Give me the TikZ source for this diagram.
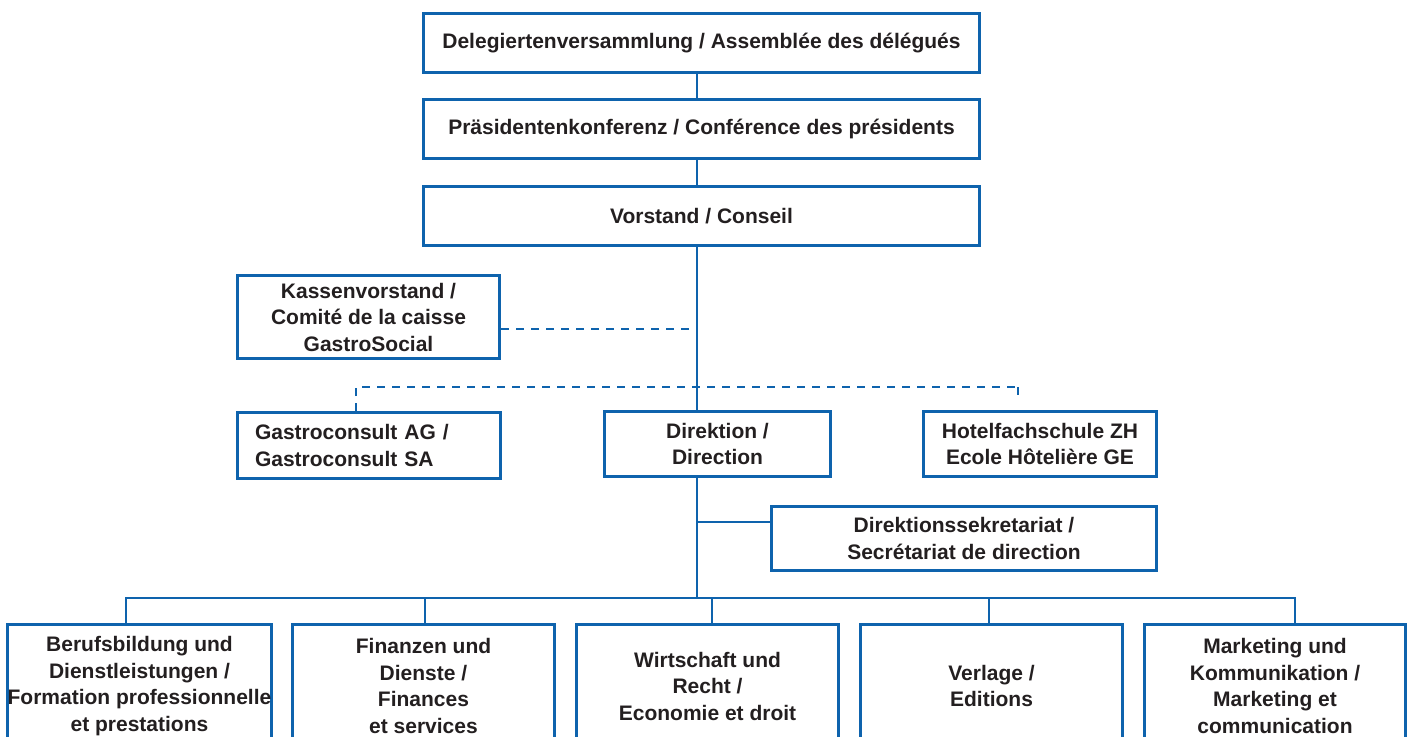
\documentclass[tikz,border=0pt]{standalone}
\usepackage{fontspec}
\setmainfont{Liberation Sans}
\definecolor{orgblue}{RGB}{14,99,173}
\definecolor{orgtext}{RGB}{35,31,32}

\tikzset{
  orgbox/.style={rectangle, draw=orgblue, line width=3pt, inner sep=0pt,
    align=center, text=orgtext, font=\bfseries\fontsize{21}{26.5}\selectfont},
  link/.style={draw=orgblue, line width=2.4pt},
  thinlink/.style={draw=orgblue, line width=1.4pt},
  dashlink/.style={draw=orgblue, line width=2.4pt, dash pattern=on 8pt off 7pt},
}

\begin{document}
\begin{tikzpicture}[x=1pt,y=-1pt]
  \useasboundingbox (0,0) rectangle (1413,736);
  \clip (0,0) rectangle (1413,736);

  \begin{scope}[every node/.style={orgbox}]
    \node[minimum width=556pt, minimum height=59pt] (dv) at (701.5,43)
      {Delegiertenversammlung / Assemblée des délégués};
    \node[minimum width=556pt, minimum height=59pt] (pk) at (701.5,129)
      {Präsidentenkonferenz / Conférence des présidents};
    \node[minimum width=556pt, minimum height=59pt] (vs) at (701.5,216)
      {Vorstand / Conseil};

    \node[minimum width=262pt, minimum height=83pt] (kv) at (368.5,317)
      {Kassenvorstand /\\Comité de la caisse\\GastroSocial};

    \node[minimum width=263pt, minimum height=66pt, text width=228pt, align=left] (gc) at (369,445.5)
      {Gastroconsult AG /\\Gastroconsult SA};
    \node[minimum width=226pt, minimum height=65pt] (dir) at (717.5,444)
      {Direktion /\\Direction};
    \node[minimum width=233pt, minimum height=65pt] (hf) at (1040,444)
      {Hotelfachschule ZH\\Ecole Hôtelière GE};
    \node[minimum width=385pt, minimum height=64pt] (ds) at (964,538.5)
      {Direktionssekretariat /\\Secrétariat de direction};

    \node[minimum width=262pt, minimum height=123pt] (b1) at (139.5,686)
      {Berufsbildung und\\Dienstleistungen /\\Formation professionnelle\\et prestations};
    \node[minimum width=262pt, minimum height=123pt] (b2) at (423.5,686)
      {Finanzen und\\Dienste /\\Finances\\et services};
    \node[minimum width=262pt, minimum height=123pt] (b3) at (707.5,686)
      {Wirtschaft und\\Recht /\\Economie et droit};
    \node[minimum width=262pt, minimum height=123pt] (b4) at (991.5,686)
      {Verlage /\\Editions};
    \node[minimum width=261pt, minimum height=123pt] (b5) at (1275,686)
      {Marketing und\\Kommunikation /\\Marketing et\\communication};
  \end{scope}

  \coordinate (spine)  at (697,0);
  \coordinate (kvjoin) at (697,329);
  \coordinate (gcjoin) at (356,387);
  \coordinate (hfjoin) at (1018,387);
  \coordinate (hfstub) at (1018,401);
  \coordinate (dsjoin) at (697,522);
  \coordinate (bus)    at (697,598);

  \begin{scope}[every edge/.style={link}]
    \path (dv.south -| spine)  edge (pk.north -| spine);
    \path (pk.south -| spine)  edge (vs.north -| spine);
    \path (vs.south -| spine)  edge (dir.north -| spine);
    \path (dir.south -| spine) edge (bus);
  \end{scope}

  \draw[dashlink] (kvjoin -| kv.east) -- (kvjoin);
  \draw[dashlink] (gcjoin |- gc.north) -- (gcjoin) -- (hfjoin);
  \draw[dashlink] (hfjoin) -- (hfstub);

  \draw[thinlink] (dsjoin) -- (dsjoin -| ds.west);
  \foreach \b/\dx in {b1/-13.5, b2/1.5, b3/4.5, b4/-2.5, b5/20}
    \draw[thinlink] ([xshift=\dx pt]\b.north) |- (bus);

\end{tikzpicture}
\end{document}
